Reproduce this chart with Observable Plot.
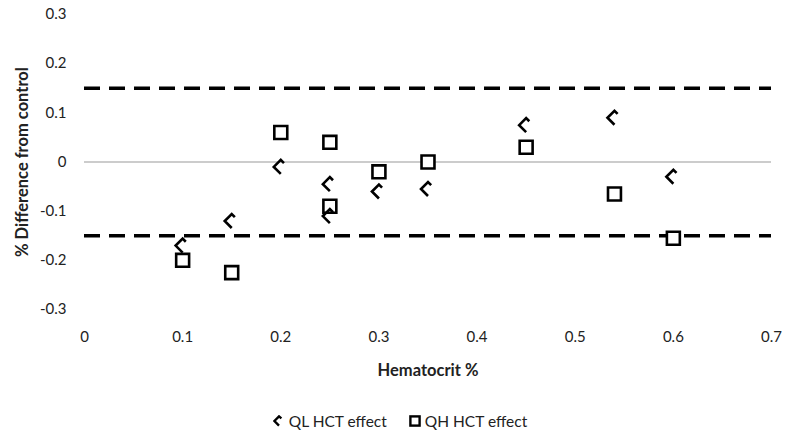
<!DOCTYPE html>
<html>
<head>
<meta charset="utf-8">
<script src="https://cdn.jsdelivr.net/npm/d3@7"></script>
<script src="https://cdn.jsdelivr.net/npm/@observablehq/plot@0.6"></script>
<style>
  body { margin: 0; background: #fff; }
  #chart { width: 800px; }
  .legend { height: 31px; display: flex; justify-content: center; align-items: center; gap: 22px;
    font-family: Lato, "Open Sans", sans-serif; font-size: 15.5px; color: #222; padding-left: 0px; }
  .legend span { display: inline-flex; align-items: center; gap: 4px; }
</style>
</head>
<body>
<div id="chart"></div>
<script>
const FONT = 'Lato, "Open Sans", sans-serif';
const qlX = [0.1, 0.15, 0.2, 0.25, 0.25, 0.3, 0.35, 0.45, 0.54, 0.6];
const qlY = [-0.17, -0.12, -0.01, -0.045, -0.11, -0.06, -0.055, 0.075, 0.09, -0.03];
const qhX = [0.1, 0.15, 0.2, 0.25, 0.25, 0.3, 0.35, 0.45, 0.54, 0.6];
const qhY = [-0.2, -0.225, 0.06, 0.04, -0.09, -0.02, 0, 0.03, -0.065, -0.155];
const xTicks = [0, 0.1, 0.2, 0.3, 0.4, 0.5, 0.6, 0.7];
const yTicks = [-0.3, -0.2, -0.1, 0, 0.1, 0.2, 0.3];
const limits = [0.15, -0.15];
const seriesNames = ["QL HCT effect", "QH HCT effect"];

const ql = qlX.map((x, i) => ({x, y: qlY[i]}));
const qh = qhX.map((x, i) => ({x, y: qhY[i]}));

const chevron = {
  draw(ctx, size) {
    const r = Math.sqrt(size / Math.PI);
    ctx.moveTo(r * 0.45, -r * 0.55);
    ctx.lineTo(0, -r);
    ctx.lineTo(-r, 0);
    ctx.lineTo(0, r);
  }
};

const fmt = d => d === 0 ? "0" : String(+d.toFixed(1)).replace("−", "-");

const plot = Plot.plot({
  width: 800,
  height: 405,
  marginTop: 14,
  marginBottom: 96,
  marginLeft: 84,
  marginRight: 29,
  style: { fontFamily: FONT, fontSize: "15px", color: "#222", background: "#fff" },
  x: { domain: [0, 0.7], label: null },
  y: { domain: [-0.3, 0.3], label: null },
  marks: [
    Plot.axisX(xTicks, { tickFormat: fmt, tickSize: 0, tickPadding: 22, fontSize: 15, fill: "#222", label: null }),
    Plot.axisY(yTicks, { tickFormat: fmt, tickSize: 0, tickPadding: 18, fontSize: 15, fill: "#222", label: null }),
    Plot.ruleY([0], { stroke: "#9a9a9a", strokeWidth: 1.2 }),
    Plot.ruleY(limits, { stroke: "#000", strokeWidth: 3.5, strokeDasharray: "16,9" }),
    Plot.dot(qh, { x: "x", y: "y", symbol: "square", r: 7.3, stroke: "#000", fill: "#fff", strokeWidth: 2.6 }),
    Plot.dot(ql, { x: "x", y: "y", symbol: chevron, r: 7, stroke: "#000", fill: "none", strokeWidth: 2.6 }),
    Plot.text(["Hematocrit %"], { frameAnchor: "bottom", dy: 61, lineAnchor: "middle", fontWeight: "bold", fontSize: 16.5, fill: "#222" }),
    Plot.text(["% Difference from control"], { frameAnchor: "left", dx: -62, rotate: -90, textAnchor: "middle", lineAnchor: "middle", fontWeight: "bold", fontSize: 16.5, fill: "#222" })
  ]
});
document.getElementById("chart").appendChild(plot);

const legend = document.createElement("div");
legend.className = "legend";
legend.innerHTML = `
  <span><svg width="12" height="12" viewBox="-6 -6 12 12"><path d="M2.4,-2.6 L0,-4.6 L-4.6,0 L0,4.6" fill="none" stroke="#000" stroke-width="2.4"/></svg>${seriesNames[0]}</span>
  <span><svg width="12" height="12" viewBox="-6 -6 12 12"><rect x="-4.6" y="-4.6" width="9.2" height="9.2" fill="#fff" stroke="#000" stroke-width="2.4"/></svg>${seriesNames[1]}</span>`;
document.body.appendChild(legend);
</script>
</body>
</html>
